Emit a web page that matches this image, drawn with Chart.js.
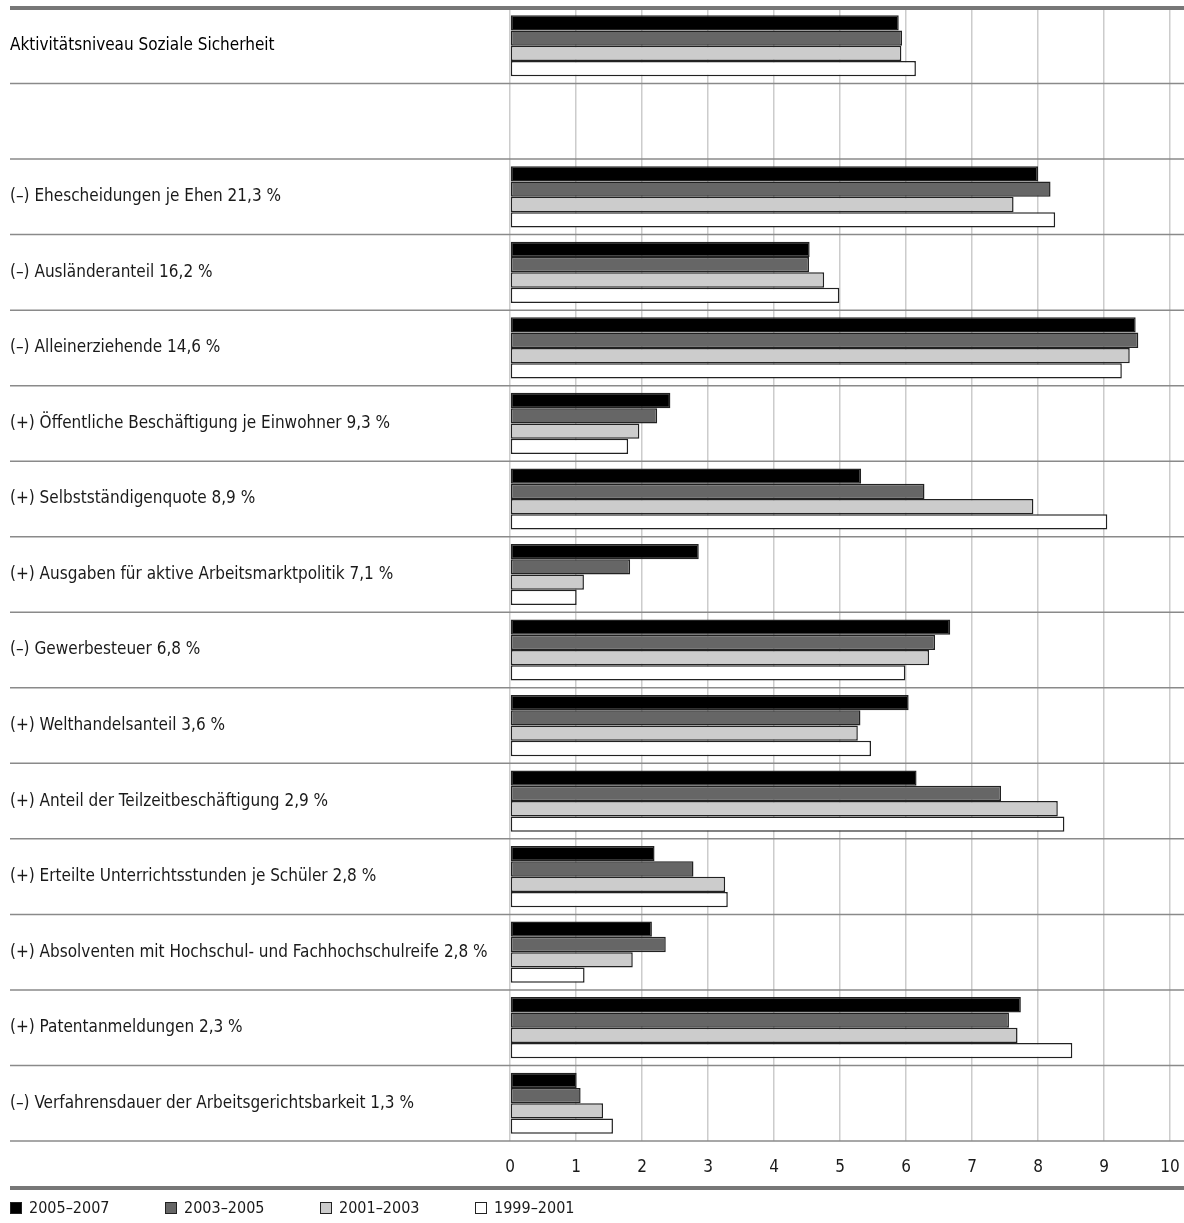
<!DOCTYPE html>
<html lang="de">
<head>
<meta charset="utf-8">
<script src="https://cdn.jsdelivr.net/npm/chart.js@4.4.1/dist/chart.umd.min.js"></script>
<style>
  html, body { margin: 0; padding: 0; background: #fff; }
  #wrap { position: relative; width: 1184px; height: 1223px; }
  #legend {
    position: absolute; left: 10px; top: 1198px; display: flex;
    font: 16px 'DejaVu Sans Condensed', 'DejaVu Sans', sans-serif; color: #1a1a1a;
  }
  #legend .item { display: flex; align-items: center; width: 155px; }
  #legend .box { width: 12px; height: 12px; border: 1.5px solid #222; box-sizing: border-box; margin-right: 7px; }
</style>
</head>
<body>
<div id="wrap">
  <canvas id="c" width="1184" height="1223"></canvas>
  <div id="legend"></div>
</div>
<script>
// Indicator rows (second row is an intentional blank spacer)
const categories = [
  'Aktivitätsniveau Soziale Sicherheit',
  '',
  '(–) Ehescheidungen je Ehen 21,3 %',
  '(–) Ausländeranteil 16,2 %',
  '(–) Alleinerziehende 14,6 %',
  '(+) Öffentliche Beschäftigung je Einwohner 9,3 %',
  '(+) Selbstständigenquote 8,9 %',
  '(+) Ausgaben für aktive Arbeitsmarktpolitik 7,1 %',
  '(–) Gewerbesteuer 6,8 %',
  '(+) Welthandelsanteil 3,6 %',
  '(+) Anteil der Teilzeitbeschäftigung 2,9 %',
  '(+) Erteilte Unterrichtsstunden je Schüler 2,8 %',
  '(+) Absolventen mit Hochschul- und Fachhochschulreife 2,8 %',
  '(+) Patentanmeldungen 2,3 %',
  '(–) Verfahrensdauer der Arbeitsgerichtsbarkeit 1,3 %'
];

const periods = ['2005–2007', '2003–2005', '2001–2003', '1999–2001'];

const values2005_2007 = [5.89, null, 8.00, 4.54, 9.48, 2.43, 5.32, 2.86, 6.67, 6.04, 6.16, 2.19, 2.15, 7.74, 1.01];
const values2003_2005 = [5.94, null, 8.19, 4.53, 9.52, 2.23, 6.28, 1.82, 6.44, 5.31, 7.44, 2.78, 2.36, 7.56, 1.07];
const values2001_2003 = [5.93, null, 7.63, 4.76, 9.39, 1.96, 7.93, 1.12, 6.35, 5.27, 8.30, 3.26, 1.86, 7.69, 1.41];
const values1999_2001 = [6.15, null, 8.26, 4.99, 9.27, 1.79, 9.05, 1.01, 5.99, 5.47, 8.40, 3.30, 1.13, 8.52, 1.56];

const xTicks = [0, 1, 2, 3, 4, 5, 6, 7, 8, 9, 10];

const seriesValues = [values2005_2007, values2003_2005, values2001_2003, values1999_2001];
const fills = ['#000000', '#666666', '#cccccc', '#ffffff'];

const FONT = "'DejaVu Sans Condensed', 'DejaVu Sans', sans-serif";

// Horizontal rules: row separators across the full width, heavy top and bottom rules
const rowRules = {
  id: 'rowRules',
  beforeDatasetsDraw(chart) {
    const { ctx, scales: { x, y } } = chart;
    const n = categories.length;
    const step = (y.bottom - y.top) / n;
    const left = 10, right = chart.width;
    ctx.save();
    ctx.strokeStyle = '#8a8a8a';
    ctx.lineWidth = 1.5;
    for (let i = 1; i <= n; i++) {
      const yy = y.top + i * step;
      ctx.beginPath(); ctx.moveTo(left, yy); ctx.lineTo(right, yy); ctx.stroke();
    }
    ctx.strokeStyle = '#777777';
    ctx.lineWidth = 4;
    ctx.beginPath(); ctx.moveTo(left, y.top); ctx.lineTo(right, y.top); ctx.stroke();
    ctx.beginPath(); ctx.moveTo(left, x.bottom); ctx.lineTo(right, x.bottom); ctx.stroke();
    ctx.restore();
  }
};

// Legend rendered as HTML from the chart's datasets
const htmlLegend = {
  id: 'htmlLegend',
  afterUpdate(chart) {
    const el = document.getElementById('legend');
    el.innerHTML = '';
    chart.data.datasets.forEach(ds => {
      const item = document.createElement('div');
      item.className = 'item';
      const box = document.createElement('span');
      box.className = 'box';
      box.style.background = ds.backgroundColor;
      box.style.borderColor = ds.borderColor;
      const txt = document.createElement('span');
      txt.textContent = ds.label;
      item.appendChild(box);
      item.appendChild(txt);
      el.appendChild(item);
    });
  }
};

new Chart(document.getElementById('c'), {
  type: 'bar',
  data: {
    labels: categories,
    datasets: periods.map((p, i) => ({
      label: p,
      data: seriesValues[i],
      backgroundColor: fills[i],
      borderColor: '#222222',
      borderWidth: 1.5,
      borderSkipped: false,
      categoryPercentage: 0.81,
      barPercentage: 1.0
    }))
  },
  options: {
    indexAxis: 'y',
    responsive: false,
    animation: false,
    devicePixelRatio: 1,
    layout: { padding: { left: 10, right: 14, top: 8, bottom: 35 } },
    plugins: {
      legend: { display: false },
      tooltip: { enabled: false }
    },
    scales: {
      x: {
        min: 0,
        max: 10,
        afterBuildTicks: s => { s.ticks = xTicks.map(v => ({ value: v })); },
        afterFit: s => { s.height = 47; s.paddingLeft = 0; s.paddingRight = 0; },
        grid: { color: '#cccccc', lineWidth: 1.5, drawTicks: false },
        border: { display: false },
        ticks: { color: '#1a1a1a', padding: 16, font: { family: FONT, size: 17 } }
      },
      y: {
        afterFit: s => { s.width = 500; s.paddingTop = 0; s.paddingBottom = 0; },
        grid: { display: false },
        border: { display: false },
        ticks: {
          autoSkip: false,
          crossAlign: 'far',
          color: ctx => ctx.index === 0 ? '#000000' : '#1a1a1a',
          font: { family: FONT, size: 17 }
        }
      }
    }
  },
  plugins: [rowRules, htmlLegend]
});
</script>
</body>
</html>
